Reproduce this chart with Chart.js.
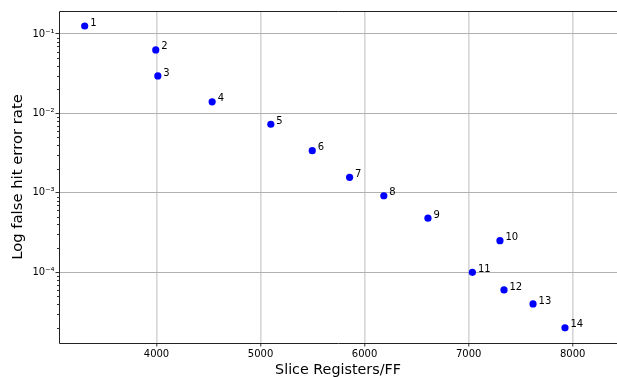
<!DOCTYPE html>
<html><head><meta charset="utf-8">
<style>html,body{margin:0;padding:0;background:#fff}#wrap{width:617px;height:377px}</style>
<script src="https://cdn.jsdelivr.net/npm/chart.js@4"></script>
</head><body><div id="wrap"><canvas id="c" width="617" height="377"></canvas></div>
<script>
const xValues = [3310, 3993, 4013, 4535, 5099, 5497, 5856, 6185, 6609, 7301, 7036, 7340, 7619, 7926];
const yValues = [0.126, 0.063, 0.0296, 0.0140, 0.0073, 0.0034, 0.00157, 0.00092, 0.00048, 0.00025, 0.0001, 0.00006, 0.00004, 0.00002];
const pointLabels = ['1','2','3','4','5','6','7','8','9','10','11','12','13','14'];
const xTicks = [4000, 5000, 6000, 7000, 8000];
const supMap = {'-':'\u207B','0':'\u2070','1':'\u00B9','2':'\u00B2','3':'\u00B3','4':'\u2074','5':'\u2075','6':'\u2076','7':'\u2077','8':'\u2078','9':'\u2079'};
function sup(n){return String(n).split('').map(c=>supMap[c]).join('');}

const FONT = "'DejaVu Sans', sans-serif";
const isMajor = v => Math.abs(Math.log10(v) - Math.round(Math.log10(v))) < 1e-9;

const framePlugin = {
  id:'frame',
  afterDatasetsDraw(chart){
    const {ctx, chartArea:a} = chart;
    const ys = chart.scales.y;
    ctx.save();
    ctx.strokeStyle = '#000'; ctx.lineWidth = 0.8;
    ys.ticks.forEach(t=>{
      if(!isMajor(t.value)){
        const p = Math.round(ys.getPixelForValue(t.value)) + 0.5;
        ctx.beginPath(); ctx.moveTo(a.left-2, p); ctx.lineTo(a.left, p); ctx.stroke();
      }
    });
    ctx.strokeStyle = '#222'; ctx.lineWidth = 1;
    const L = Math.round(a.left)+0.5, T = Math.round(a.top)+0.5, B = Math.round(a.bottom)+0.5, R = Math.round(a.right)+0.5;
    ctx.beginPath();
    ctx.moveTo(R, T); ctx.lineTo(L, T); ctx.lineTo(L, B); ctx.lineTo(R, B); ctx.lineTo(R, T);
    ctx.stroke();
    ctx.restore();
  },
  afterDraw(chart){
    const {ctx} = chart;
    const meta = chart.getDatasetMeta(0);
    ctx.save();
    ctx.fillStyle = '#000';
    ctx.font = "10px " + FONT;
    ctx.textAlign = 'left'; ctx.textBaseline = 'middle';
    meta.data.forEach((el,i)=>{ ctx.fillText(pointLabels[i], el.x + 5.5, el.y - 3); });
    ctx.restore();
  }
};

new Chart(document.getElementById('c').getContext('2d'), {
  type:'scatter',
  data:{datasets:[{
    data: xValues.map((x,i)=>({x:x, y:yValues[i]})),
    backgroundColor:'#0000ff', borderColor:'#0000ff', pointRadius:3.6, borderWidth:0, pointHoverRadius:3.6
  }]},
  options:{
    responsive:false, animation:false, devicePixelRatio:1,
    layout:{autoPadding:false, padding:{top:11, right:0, left:0, bottom:0}},
    plugins:{legend:{display:false}, tooltip:{enabled:false}},
    scales:{
      x:{
        type:'linear', min:3063, max:8426,
        afterBuildTicks: s => { s.ticks = xTicks.map(v=>({value:v})); },
        afterFit: s => { s.height = 34; s.paddingRight = 0; s.paddingLeft = 0; },
        grid:{color:'#d6d6d6', lineWidth:1.6, drawTicks:true, tickLength:3.5, tickColor:'#000', tickWidth:0.8},
        border:{display:false},
        ticks:{font:{family:FONT, size:10}, color:'#000', padding:2, maxRotation:0, autoSkip:false,
          callback: v => String(v)},
        title:{display:true, text:'Slice Registers/FF', font:{family:FONT, size:14.3, lineHeight:1}, color:'#000', padding:{top:0, bottom:0}}
      },
      y:{
        type:'logarithmic', min:1.29e-5, max:0.1945,
        afterBuildTicks: s => {
          const t = [];
          for (let e = -5; e <= 0; e++) {
            for (let m = 1; m <= 9; m++) {
              const v = m * Math.pow(10, e);
              if (v >= s.min && v <= s.max) t.push({value:v, major: m===1});
            }
          }
          s.ticks = t;
        },
        afterFit: s => { s.width = 59; },
        grid:{
          color: c => (c.tick && isMajor(c.tick.value)) ? '#b0b0b0' : 'rgba(0,0,0,0)',
          tickColor: c => (c.tick && isMajor(c.tick.value)) ? '#000' : 'rgba(0,0,0,0)',
          lineWidth:1, drawTicks:true, tickLength:3.5, tickWidth:0.8
        },
        border:{display:false},
        ticks:{
          font:{family:FONT, size:10}, color:'#000', padding:1, autoSkip:false,
          callback: v => isMajor(v) ? '10' + sup(Math.round(Math.log10(v))) : ''
        },
        title:{display:true, text:'Log false hit error rate', font:{family:FONT, size:14.8, lineHeight:1}, color:'#000', padding:{top:11, bottom:0}}
      }
    }
  },
  plugins:[framePlugin]
});
</script></body></html>
